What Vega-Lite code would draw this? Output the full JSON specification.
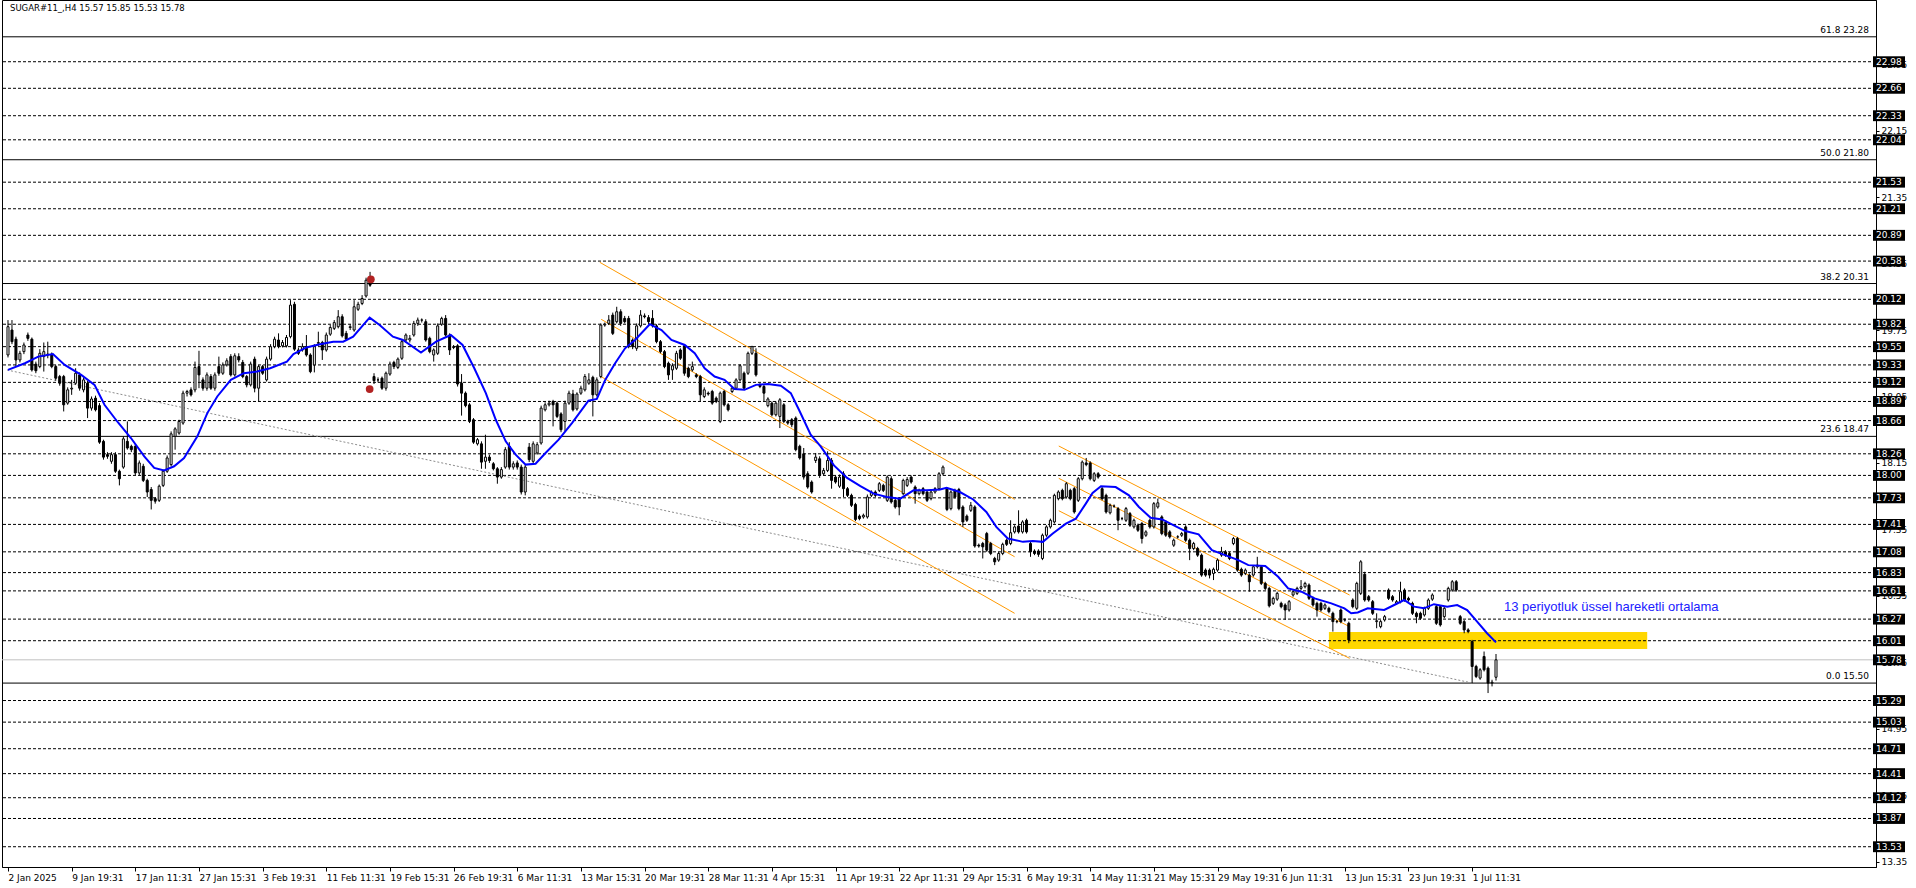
{
"$schema":"https://vega.github.io/schema/vega-lite/v6.json",
"width":1874,"height":867,
"padding":{"left":2,"top":0,"right":40,"bottom":21},
"autosize":{"type":"none"},
"background":"white",
"config":{"view":{"stroke":"#000","strokeWidth":1}},
"datasets":{
"candles":[
{"i":0,"o":19.45,"h":19.87,"l":19.42,"c":19.79},{"i":1,"o":19.75,"h":19.87,"l":19.58,"c":19.61},{"i":2,"o":19.64,"h":19.67,"l":19.31,"c":19.39},{"i":3,"o":19.39,"h":19.5,"l":19.36,"c":19.47},{"i":4,"o":19.49,"h":19.6,"l":19.46,"c":19.57},{"i":5,"o":19.69,"h":19.72,"l":19.62,"c":19.65},{"i":6,"o":19.64,"h":19.66,"l":19.25,"c":19.27},{"i":7,"o":19.34,"h":19.37,"l":19.23,"c":19.26},{"i":8,"o":19.31,"h":19.52,"l":19.29,"c":19.47},{"i":9,"o":19.43,"h":19.6,"l":19.25,"c":19.49},
{"i":10,"o":19.45,"h":19.61,"l":19.41,"c":19.46},{"i":11,"o":19.46,"h":19.48,"l":19.29,"c":19.31},{"i":12,"o":19.31,"h":19.33,"l":19.14,"c":19.17},{"i":13,"o":19.19,"h":19.21,"l":19.08,"c":19.11},{"i":14,"o":19.19,"h":19.21,"l":18.77,"c":18.85},{"i":15,"o":18.87,"h":19.06,"l":18.85,"c":19.03},{"i":16,"o":19.04,"h":19.15,"l":18.97,"c":19.05},{"i":17,"o":19.11,"h":19.29,"l":19.09,"c":19.23},{"i":18,"o":19.21,"h":19.24,"l":19.02,"c":19.05},{"i":19,"o":19.03,"h":19.18,"l":19.0,"c":19.15},
{"i":20,"o":19.11,"h":19.14,"l":18.69,"c":18.81},{"i":21,"o":18.81,"h":18.95,"l":18.78,"c":18.92},{"i":22,"o":18.93,"h":18.96,"l":18.77,"c":18.79},{"i":23,"o":18.84,"h":18.87,"l":18.38,"c":18.4},{"i":24,"o":18.41,"h":18.43,"l":18.19,"c":18.22},{"i":25,"o":18.25,"h":18.28,"l":18.2,"c":18.23},{"i":26,"o":18.17,"h":18.28,"l":18.14,"c":18.25},{"i":27,"o":18.25,"h":18.28,"l":18.03,"c":18.05},{"i":28,"o":18.05,"h":18.07,"l":17.88,"c":17.96},{"i":29,"o":18.1,"h":18.47,"l":18.08,"c":18.44},
{"i":30,"o":18.41,"h":18.65,"l":18.31,"c":18.33},{"i":31,"o":18.35,"h":18.37,"l":18.28,"c":18.31},{"i":32,"o":18.35,"h":18.38,"l":18.0,"c":18.03},{"i":33,"o":18.03,"h":18.18,"l":18.0,"c":18.15},{"i":34,"o":18.11,"h":18.14,"l":17.92,"c":17.94},{"i":35,"o":17.94,"h":17.96,"l":17.74,"c":17.8},{"i":36,"o":17.83,"h":17.86,"l":17.59,"c":17.7},{"i":37,"o":17.72,"h":17.74,"l":17.66,"c":17.69},{"i":38,"o":17.7,"h":17.89,"l":17.68,"c":17.87},{"i":39,"o":17.88,"h":18.07,"l":17.86,"c":18.05},
{"i":40,"o":18.05,"h":18.24,"l":18.03,"c":18.21},{"i":41,"o":18.13,"h":18.53,"l":18.11,"c":18.5},{"i":42,"o":18.47,"h":18.58,"l":18.31,"c":18.56},{"i":43,"o":18.51,"h":18.67,"l":18.49,"c":18.65},{"i":44,"o":18.63,"h":19.02,"l":18.61,"c":18.99},{"i":45,"o":18.99,"h":19.03,"l":18.95,"c":19.01},{"i":46,"o":19.03,"h":19.06,"l":18.95,"c":18.97},{"i":47,"o":19.03,"h":19.37,"l":19.0,"c":19.3},{"i":48,"o":19.31,"h":19.5,"l":19.05,"c":19.21},{"i":49,"o":19.15,"h":19.18,"l":19.02,"c":19.05},
{"i":50,"o":19.05,"h":19.24,"l":19.02,"c":19.21},{"i":51,"o":19.19,"h":19.22,"l":19.03,"c":19.05},{"i":52,"o":19.05,"h":19.24,"l":19.02,"c":19.21},{"i":53,"o":19.31,"h":19.43,"l":19.2,"c":19.23},{"i":54,"o":19.23,"h":19.36,"l":19.21,"c":19.33},{"i":55,"o":19.33,"h":19.41,"l":19.31,"c":19.38},{"i":56,"o":19.43,"h":19.46,"l":19.19,"c":19.21},{"i":57,"o":19.21,"h":19.47,"l":19.19,"c":19.44},{"i":58,"o":19.43,"h":19.47,"l":19.36,"c":19.39},{"i":59,"o":19.36,"h":19.39,"l":19.17,"c":19.19},
{"i":60,"o":19.19,"h":19.21,"l":19.06,"c":19.09},{"i":61,"o":19.09,"h":19.37,"l":19.07,"c":19.34},{"i":62,"o":19.4,"h":19.43,"l":19.0,"c":19.05},{"i":63,"o":19.05,"h":19.33,"l":18.89,"c":19.31},{"i":64,"o":19.31,"h":19.33,"l":19.21,"c":19.23},{"i":65,"o":19.15,"h":19.43,"l":19.13,"c":19.4},{"i":66,"o":19.4,"h":19.58,"l":19.38,"c":19.55},{"i":67,"o":19.55,"h":19.67,"l":19.53,"c":19.64},{"i":68,"o":19.63,"h":19.71,"l":19.53,"c":19.55},{"i":69,"o":19.56,"h":19.63,"l":19.54,"c":19.6},
{"i":70,"o":19.56,"h":19.69,"l":19.54,"c":19.66},{"i":71,"o":19.67,"h":20.11,"l":19.65,"c":20.05},{"i":72,"o":20.06,"h":20.09,"l":19.5,"c":19.52},{"i":73,"o":19.51,"h":19.54,"l":19.45,"c":19.47},{"i":74,"o":19.51,"h":19.59,"l":19.49,"c":19.55},{"i":75,"o":19.55,"h":19.69,"l":19.43,"c":19.45},{"i":76,"o":19.45,"h":19.47,"l":19.23,"c":19.25},{"i":77,"o":19.33,"h":19.58,"l":19.24,"c":19.55},{"i":78,"o":19.59,"h":19.73,"l":19.56,"c":19.6},{"i":79,"o":19.6,"h":19.62,"l":19.39,"c":19.51},
{"i":80,"o":19.51,"h":19.72,"l":19.49,"c":19.69},{"i":81,"o":19.7,"h":19.81,"l":19.68,"c":19.78},{"i":82,"o":19.77,"h":19.87,"l":19.75,"c":19.84},{"i":83,"o":19.79,"h":19.99,"l":19.77,"c":19.91},{"i":84,"o":19.91,"h":19.94,"l":19.66,"c":19.68},{"i":85,"o":19.71,"h":19.74,"l":19.62,"c":19.64},{"i":86,"o":19.78,"h":19.82,"l":19.75,"c":19.79},{"i":87,"o":19.75,"h":20.11,"l":19.73,"c":20.03},{"i":88,"o":20.0,"h":20.09,"l":19.98,"c":20.06},{"i":89,"o":20.07,"h":20.17,"l":20.05,"c":20.13},
{"i":90,"o":20.16,"h":20.38,"l":20.14,"c":20.35},{"i":91,"o":20.39,"h":20.45,"l":20.27,"c":20.29},{"i":92,"o":19.19,"h":19.23,"l":19.1,"c":19.14},{"i":93,"o":19.15,"h":19.18,"l":19.12,"c":19.15},{"i":94,"o":19.17,"h":19.19,"l":19.03,"c":19.05},{"i":95,"o":19.05,"h":19.25,"l":19.02,"c":19.23},{"i":96,"o":19.22,"h":19.37,"l":19.2,"c":19.34},{"i":97,"o":19.36,"h":19.38,"l":19.28,"c":19.31},{"i":98,"o":19.3,"h":19.42,"l":19.28,"c":19.4},{"i":99,"o":19.41,"h":19.63,"l":19.39,"c":19.61},
{"i":100,"o":19.63,"h":19.71,"l":19.6,"c":19.69},{"i":101,"o":19.63,"h":19.69,"l":19.6,"c":19.65},{"i":102,"o":19.69,"h":19.86,"l":19.67,"c":19.83},{"i":103,"o":19.83,"h":19.9,"l":19.8,"c":19.87},{"i":104,"o":19.87,"h":19.89,"l":19.84,"c":19.87},{"i":105,"o":19.85,"h":19.88,"l":19.61,"c":19.63},{"i":106,"o":19.65,"h":19.67,"l":19.47,"c":19.49},{"i":107,"o":19.45,"h":19.53,"l":19.37,"c":19.51},{"i":108,"o":19.47,"h":19.83,"l":19.45,"c":19.8},{"i":109,"o":19.82,"h":19.91,"l":19.8,"c":19.89},
{"i":110,"o":19.89,"h":19.93,"l":19.67,"c":19.69},{"i":111,"o":19.69,"h":19.71,"l":19.45,"c":19.51},{"i":112,"o":19.55,"h":19.57,"l":19.52,"c":19.54},{"i":113,"o":19.56,"h":19.58,"l":19.07,"c":19.1},{"i":114,"o":19.11,"h":19.22,"l":18.72,"c":18.99},{"i":115,"o":18.99,"h":19.01,"l":18.82,"c":18.84},{"i":116,"o":18.85,"h":18.87,"l":18.63,"c":18.65},{"i":117,"o":18.67,"h":18.69,"l":18.38,"c":18.4},{"i":118,"o":18.38,"h":18.45,"l":18.36,"c":18.43},{"i":119,"o":18.38,"h":18.41,"l":18.08,"c":18.16},
{"i":120,"o":18.17,"h":18.49,"l":18.08,"c":18.22},{"i":121,"o":18.22,"h":18.25,"l":18.15,"c":18.18},{"i":122,"o":18.14,"h":18.16,"l":18.06,"c":18.08},{"i":123,"o":18.08,"h":18.1,"l":17.9,"c":17.98},{"i":124,"o":17.98,"h":18.1,"l":17.96,"c":18.07},{"i":125,"o":18.1,"h":18.34,"l":18.08,"c":18.31},{"i":126,"o":18.35,"h":18.4,"l":18.07,"c":18.1},{"i":127,"o":18.1,"h":18.17,"l":18.07,"c":18.14},{"i":128,"o":18.15,"h":18.18,"l":18.07,"c":18.1},{"i":129,"o":18.1,"h":18.13,"l":17.77,"c":17.8},
{"i":130,"o":17.8,"h":18.13,"l":17.76,"c":18.1},{"i":131,"o":18.34,"h":18.39,"l":18.16,"c":18.19},{"i":132,"o":18.17,"h":18.41,"l":18.14,"c":18.38},{"i":133,"o":18.27,"h":18.4,"l":18.25,"c":18.37},{"i":134,"o":18.39,"h":18.84,"l":18.37,"c":18.81},{"i":135,"o":18.79,"h":18.88,"l":18.77,"c":18.85},{"i":136,"o":18.85,"h":18.9,"l":18.83,"c":18.87},{"i":137,"o":18.89,"h":18.91,"l":18.59,"c":18.85},{"i":138,"o":18.87,"h":18.89,"l":18.69,"c":18.71},{"i":139,"o":18.74,"h":18.76,"l":18.52,"c":18.55},
{"i":140,"o":18.65,"h":18.9,"l":18.53,"c":18.87},{"i":141,"o":18.87,"h":19.02,"l":18.85,"c":18.99},{"i":142,"o":18.98,"h":19.03,"l":18.77,"c":18.79},{"i":143,"o":18.8,"h":19.0,"l":18.78,"c":18.98},{"i":144,"o":18.99,"h":19.08,"l":18.97,"c":19.05},{"i":145,"o":19.03,"h":19.22,"l":19.01,"c":19.19},{"i":146,"o":19.11,"h":19.23,"l":19.09,"c":19.15},{"i":147,"o":19.18,"h":19.2,"l":18.71,"c":18.97},{"i":148,"o":18.97,"h":19.18,"l":18.95,"c":19.15},{"i":149,"o":19.19,"h":19.83,"l":19.17,"c":19.81},
{"i":150,"o":19.81,"h":19.84,"l":19.79,"c":19.82},{"i":151,"o":19.83,"h":19.93,"l":19.81,"c":19.87},{"i":152,"o":19.93,"h":19.96,"l":19.69,"c":19.71},{"i":153,"o":19.85,"h":20.03,"l":19.83,"c":19.97},{"i":154,"o":19.97,"h":20.0,"l":19.8,"c":19.83},{"i":155,"o":19.89,"h":19.92,"l":19.83,"c":19.85},{"i":156,"o":19.89,"h":19.92,"l":19.53,"c":19.56},{"i":157,"o":19.63,"h":19.65,"l":19.52,"c":19.55},{"i":158,"o":19.53,"h":19.83,"l":19.5,"c":19.8},{"i":159,"o":19.8,"h":19.99,"l":19.78,"c":19.93},
{"i":160,"o":19.92,"h":19.95,"l":19.89,"c":19.91},{"i":161,"o":19.9,"h":19.93,"l":19.82,"c":19.85},{"i":162,"o":19.89,"h":19.99,"l":19.78,"c":19.8},{"i":163,"o":19.8,"h":19.82,"l":19.59,"c":19.61},{"i":164,"o":19.61,"h":19.63,"l":19.47,"c":19.49},{"i":165,"o":19.49,"h":19.51,"l":19.29,"c":19.31},{"i":166,"o":19.35,"h":19.37,"l":19.15,"c":19.21},{"i":167,"o":19.27,"h":19.35,"l":19.15,"c":19.32},{"i":168,"o":19.29,"h":19.5,"l":19.27,"c":19.47},{"i":169,"o":19.51,"h":19.53,"l":19.39,"c":19.41},
{"i":170,"o":19.56,"h":19.58,"l":19.2,"c":19.23},{"i":171,"o":19.29,"h":19.31,"l":19.17,"c":19.19},{"i":172,"o":19.27,"h":19.37,"l":19.25,"c":19.31},{"i":173,"o":19.21,"h":19.23,"l":19.17,"c":19.19},{"i":174,"o":19.19,"h":19.21,"l":18.89,"c":18.97},{"i":175,"o":18.95,"h":19.06,"l":18.93,"c":19.03},{"i":176,"o":18.99,"h":19.01,"l":18.96,"c":18.98},{"i":177,"o":19.01,"h":19.03,"l":18.85,"c":18.87},{"i":178,"o":18.93,"h":18.95,"l":18.87,"c":18.89},{"i":179,"o":18.65,"h":19.01,"l":18.63,"c":18.99},
{"i":180,"o":19.01,"h":19.03,"l":18.83,"c":18.85},{"i":181,"o":18.85,"h":18.87,"l":18.77,"c":18.79},{"i":182,"o":19.01,"h":19.07,"l":18.99,"c":19.05},{"i":183,"o":19.05,"h":19.17,"l":19.03,"c":19.15},{"i":184,"o":19.15,"h":19.34,"l":19.13,"c":19.32},{"i":185,"o":19.23,"h":19.25,"l":19.03,"c":19.05},{"i":186,"o":19.23,"h":19.49,"l":19.21,"c":19.47},{"i":187,"o":19.47,"h":19.56,"l":19.45,"c":19.55},{"i":188,"o":19.47,"h":19.53,"l":19.19,"c":19.21},{"i":189,"o":19.09,"h":19.11,"l":19.05,"c":19.07},
{"i":190,"o":19.07,"h":19.09,"l":18.89,"c":18.99},{"i":191,"o":18.84,"h":18.94,"l":18.82,"c":18.92},{"i":192,"o":18.87,"h":18.89,"l":18.71,"c":18.73},{"i":193,"o":18.73,"h":18.89,"l":18.71,"c":18.87},{"i":194,"o":18.71,"h":18.93,"l":18.57,"c":18.91},{"i":195,"o":18.85,"h":18.87,"l":18.63,"c":18.65},{"i":196,"o":18.65,"h":18.67,"l":18.61,"c":18.63},{"i":197,"o":18.67,"h":18.69,"l":18.58,"c":18.61},{"i":198,"o":18.69,"h":18.71,"l":18.29,"c":18.31},{"i":199,"o":18.35,"h":18.37,"l":18.19,"c":18.21},
{"i":200,"o":18.26,"h":18.33,"l":17.95,"c":17.98},{"i":201,"o":18.02,"h":18.05,"l":17.84,"c":17.86},{"i":202,"o":17.92,"h":17.94,"l":17.78,"c":17.8},{"i":203,"o":18.18,"h":18.27,"l":18.15,"c":18.22},{"i":204,"o":18.2,"h":18.23,"l":17.97,"c":18.0},{"i":205,"o":18.02,"h":18.09,"l":18.0,"c":18.06},{"i":206,"o":18.06,"h":18.29,"l":18.04,"c":18.18},{"i":207,"o":18.18,"h":18.21,"l":17.84,"c":17.94},{"i":208,"o":17.98,"h":18.0,"l":17.9,"c":17.92},{"i":209,"o":17.87,"h":18.01,"l":17.85,"c":17.98},
{"i":210,"o":18.02,"h":18.05,"l":17.74,"c":17.84},{"i":211,"o":17.84,"h":17.86,"l":17.74,"c":17.76},{"i":212,"o":17.76,"h":17.78,"l":17.62,"c":17.64},{"i":213,"o":17.65,"h":17.67,"l":17.45,"c":17.47},{"i":214,"o":17.51,"h":17.53,"l":17.46,"c":17.48},{"i":215,"o":17.5,"h":17.54,"l":17.48,"c":17.52},{"i":216,"o":17.5,"h":17.77,"l":17.48,"c":17.74},{"i":217,"o":17.76,"h":17.82,"l":17.74,"c":17.8},{"i":218,"o":17.8,"h":17.82,"l":17.74,"c":17.76},{"i":219,"o":17.82,"h":17.92,"l":17.8,"c":17.9},
{"i":220,"o":17.88,"h":17.9,"l":17.8,"c":17.82},{"i":221,"o":17.7,"h":18.0,"l":17.68,"c":17.98},{"i":222,"o":17.96,"h":17.99,"l":17.66,"c":17.68},{"i":223,"o":17.7,"h":17.72,"l":17.6,"c":17.62},{"i":224,"o":17.72,"h":17.74,"l":17.52,"c":17.62},{"i":225,"o":17.78,"h":17.96,"l":17.76,"c":17.94},{"i":226,"o":17.88,"h":17.98,"l":17.86,"c":17.95},{"i":227,"o":17.98,"h":18.0,"l":17.9,"c":17.92},{"i":228,"o":17.86,"h":17.88,"l":17.66,"c":17.78},{"i":229,"o":17.78,"h":17.84,"l":17.76,"c":17.82},
{"i":230,"o":17.84,"h":17.86,"l":17.76,"c":17.78},{"i":231,"o":17.8,"h":17.82,"l":17.68,"c":17.7},{"i":232,"o":17.72,"h":17.82,"l":17.7,"c":17.8},{"i":233,"o":17.8,"h":17.86,"l":17.78,"c":17.84},{"i":234,"o":17.84,"h":18.04,"l":17.82,"c":18.02},{"i":235,"o":18.02,"h":18.12,"l":18.0,"c":18.1},{"i":236,"o":17.84,"h":17.86,"l":17.57,"c":17.59},{"i":237,"o":17.6,"h":17.82,"l":17.58,"c":17.8},{"i":238,"o":17.82,"h":17.84,"l":17.72,"c":17.74},{"i":239,"o":17.83,"h":17.85,"l":17.58,"c":17.6},
{"i":240,"o":17.62,"h":17.64,"l":17.38,"c":17.44},{"i":241,"o":17.51,"h":17.53,"l":17.44,"c":17.46},{"i":242,"o":17.58,"h":17.68,"l":17.56,"c":17.64},{"i":243,"o":17.62,"h":17.64,"l":17.13,"c":17.15},{"i":244,"o":17.16,"h":17.18,"l":17.13,"c":17.15},{"i":245,"o":17.18,"h":17.2,"l":17.0,"c":17.14},{"i":246,"o":17.3,"h":17.32,"l":17.08,"c":17.1},{"i":247,"o":17.18,"h":17.2,"l":17.04,"c":17.06},{"i":248,"o":17.0,"h":17.02,"l":16.92,"c":16.96},{"i":249,"o":16.98,"h":17.08,"l":16.96,"c":17.06},
{"i":250,"o":17.06,"h":17.19,"l":17.04,"c":17.17},{"i":251,"o":17.22,"h":17.24,"l":17.15,"c":17.17},{"i":252,"o":17.18,"h":17.46,"l":17.16,"c":17.31},{"i":253,"o":17.32,"h":17.4,"l":17.3,"c":17.38},{"i":254,"o":17.39,"h":17.58,"l":17.3,"c":17.32},{"i":255,"o":17.32,"h":17.46,"l":17.3,"c":17.44},{"i":256,"o":17.46,"h":17.48,"l":17.3,"c":17.32},{"i":257,"o":17.18,"h":17.2,"l":17.02,"c":17.08},{"i":258,"o":17.09,"h":17.11,"l":17.04,"c":17.06},{"i":259,"o":17.09,"h":17.11,"l":17.02,"c":17.05},
{"i":260,"o":17.0,"h":17.3,"l":16.98,"c":17.28},{"i":261,"o":17.28,"h":17.4,"l":17.26,"c":17.38},{"i":262,"o":17.38,"h":17.48,"l":17.36,"c":17.46},{"i":263,"o":17.44,"h":17.78,"l":17.42,"c":17.76},{"i":264,"o":17.72,"h":17.82,"l":17.7,"c":17.8},{"i":265,"o":17.82,"h":17.84,"l":17.7,"c":17.72},{"i":266,"o":17.74,"h":17.92,"l":17.72,"c":17.9},{"i":267,"o":17.82,"h":17.84,"l":17.7,"c":17.72},{"i":268,"o":17.84,"h":17.86,"l":17.54,"c":17.56},{"i":269,"o":17.7,"h":17.98,"l":17.68,"c":17.96},
{"i":270,"o":17.96,"h":18.18,"l":17.94,"c":18.16},{"i":271,"o":18.15,"h":18.21,"l":18.11,"c":18.13},{"i":272,"o":18.15,"h":18.17,"l":17.94,"c":17.96},{"i":273,"o":17.94,"h":18.04,"l":17.92,"c":18.02},{"i":274,"o":18.02,"h":18.04,"l":17.96,"c":17.98},{"i":275,"o":17.84,"h":17.86,"l":17.7,"c":17.72},{"i":276,"o":17.76,"h":17.78,"l":17.54,"c":17.56},{"i":277,"o":17.55,"h":17.66,"l":17.53,"c":17.64},{"i":278,"o":17.63,"h":17.65,"l":17.61,"c":17.63},{"i":279,"o":17.6,"h":17.62,"l":17.34,"c":17.46},
{"i":280,"o":17.48,"h":17.5,"l":17.46,"c":17.48},{"i":281,"o":17.46,"h":17.62,"l":17.44,"c":17.6},{"i":282,"o":17.54,"h":17.56,"l":17.38,"c":17.4},{"i":283,"o":17.38,"h":17.48,"l":17.36,"c":17.46},{"i":284,"o":17.4,"h":17.42,"l":17.32,"c":17.34},{"i":285,"o":17.42,"h":17.44,"l":17.18,"c":17.24},{"i":286,"o":17.28,"h":17.34,"l":17.26,"c":17.32},{"i":287,"o":17.46,"h":17.48,"l":17.36,"c":17.38},{"i":288,"o":17.38,"h":17.68,"l":17.36,"c":17.66},{"i":289,"o":17.62,"h":17.72,"l":17.6,"c":17.67},
{"i":290,"o":17.5,"h":17.52,"l":17.28,"c":17.3},{"i":291,"o":17.44,"h":17.46,"l":17.26,"c":17.28},{"i":292,"o":17.32,"h":17.34,"l":17.24,"c":17.26},{"i":293,"o":17.16,"h":17.24,"l":17.14,"c":17.22},{"i":294,"o":17.26,"h":17.28,"l":17.24,"c":17.26},{"i":295,"o":17.28,"h":17.32,"l":17.26,"c":17.3},{"i":296,"o":17.38,"h":17.4,"l":17.2,"c":17.22},{"i":297,"o":17.22,"h":17.24,"l":16.98,"c":17.12},{"i":298,"o":17.12,"h":17.2,"l":17.1,"c":17.18},{"i":299,"o":17.12,"h":17.14,"l":17.02,"c":17.04},
{"i":300,"o":17.04,"h":17.06,"l":16.78,"c":16.8},{"i":301,"o":16.86,"h":16.88,"l":16.78,"c":16.8},{"i":302,"o":16.86,"h":16.88,"l":16.76,"c":16.8},{"i":303,"o":16.82,"h":16.89,"l":16.74,"c":16.87},{"i":304,"o":16.86,"h":17.0,"l":16.84,"c":16.98},{"i":305,"o":17.04,"h":17.14,"l":17.02,"c":17.08},{"i":306,"o":17.08,"h":17.1,"l":17.02,"c":17.04},{"i":307,"o":17.06,"h":17.08,"l":16.98,"c":17.0},{"i":308,"o":17.18,"h":17.26,"l":17.16,"c":17.24},{"i":309,"o":17.24,"h":17.26,"l":16.84,"c":16.86},
{"i":310,"o":16.87,"h":16.89,"l":16.78,"c":16.8},{"i":311,"o":16.82,"h":16.88,"l":16.8,"c":16.86},{"i":312,"o":16.8,"h":16.82,"l":16.6,"c":16.72},{"i":313,"o":16.8,"h":16.92,"l":16.78,"c":16.9},{"i":314,"o":16.9,"h":17.02,"l":16.88,"c":16.92},{"i":315,"o":16.9,"h":16.92,"l":16.68,"c":16.7},{"i":316,"o":16.7,"h":16.72,"l":16.62,"c":16.64},{"i":317,"o":16.64,"h":16.66,"l":16.41,"c":16.43},{"i":318,"o":16.46,"h":16.54,"l":16.44,"c":16.52},{"i":319,"o":16.51,"h":16.6,"l":16.49,"c":16.58},
{"i":320,"o":16.46,"h":16.48,"l":16.4,"c":16.42},{"i":321,"o":16.44,"h":16.46,"l":16.26,"c":16.38},{"i":322,"o":16.38,"h":16.5,"l":16.36,"c":16.48},{"i":323,"o":16.56,"h":16.62,"l":16.54,"c":16.6},{"i":324,"o":16.58,"h":16.66,"l":16.56,"c":16.64},{"i":325,"o":16.64,"h":16.74,"l":16.62,"c":16.66},{"i":326,"o":16.66,"h":16.72,"l":16.64,"c":16.7},{"i":327,"o":16.68,"h":16.7,"l":16.5,"c":16.52},{"i":328,"o":16.52,"h":16.54,"l":16.42,"c":16.44},{"i":329,"o":16.46,"h":16.48,"l":16.3,"c":16.38},
{"i":330,"o":16.46,"h":16.48,"l":16.36,"c":16.38},{"i":331,"o":16.4,"h":16.46,"l":16.38,"c":16.44},{"i":332,"o":16.4,"h":16.42,"l":16.34,"c":16.36},{"i":333,"o":16.34,"h":16.36,"l":16.12,"c":16.24},{"i":334,"o":16.24,"h":16.26,"l":16.22,"c":16.24},{"i":335,"o":16.38,"h":16.4,"l":16.22,"c":16.24},{"i":336,"o":16.26,"h":16.28,"l":16.24,"c":16.26},{"i":337,"o":16.22,"h":16.24,"l":15.98,"c":16.02},{"i":338,"o":16.5,"h":16.52,"l":16.4,"c":16.42},{"i":339,"o":16.4,"h":16.72,"l":16.38,"c":16.7},
{"i":340,"o":16.58,"h":16.98,"l":16.56,"c":16.96},{"i":341,"o":16.81,"h":16.84,"l":16.48,"c":16.5},{"i":342,"o":16.54,"h":16.56,"l":16.48,"c":16.5},{"i":343,"o":16.48,"h":16.5,"l":16.32,"c":16.34},{"i":344,"o":16.24,"h":16.34,"l":16.16,"c":16.25},{"i":345,"o":16.18,"h":16.26,"l":16.16,"c":16.24},{"i":346,"o":16.26,"h":16.32,"l":16.24,"c":16.3},{"i":347,"o":16.62,"h":16.64,"l":16.5,"c":16.52},{"i":348,"o":16.54,"h":16.56,"l":16.48,"c":16.5},{"i":349,"o":16.46,"h":16.5,"l":16.44,"c":16.48},
{"i":350,"o":16.48,"h":16.72,"l":16.46,"c":16.6},{"i":351,"o":16.62,"h":16.64,"l":16.48,"c":16.5},{"i":352,"o":16.52,"h":16.54,"l":16.48,"c":16.5},{"i":353,"o":16.46,"h":16.48,"l":16.32,"c":16.34},{"i":354,"o":16.34,"h":16.36,"l":16.22,"c":16.3},{"i":355,"o":16.34,"h":16.36,"l":16.26,"c":16.28},{"i":356,"o":16.32,"h":16.42,"l":16.3,"c":16.4},{"i":357,"o":16.4,"h":16.52,"l":16.38,"c":16.5},{"i":358,"o":16.51,"h":16.58,"l":16.49,"c":16.56},{"i":359,"o":16.42,"h":16.44,"l":16.2,"c":16.22},
{"i":360,"o":16.42,"h":16.44,"l":16.18,"c":16.2},{"i":361,"o":16.3,"h":16.42,"l":16.28,"c":16.4},{"i":362,"o":16.5,"h":16.66,"l":16.48,"c":16.64},{"i":363,"o":16.62,"h":16.74,"l":16.6,"c":16.72},{"i":364,"o":16.72,"h":16.74,"l":16.6,"c":16.62},{"i":365,"o":16.3,"h":16.32,"l":16.2,"c":16.22},{"i":366,"o":16.24,"h":16.26,"l":16.1,"c":16.14},{"i":367,"o":16.14,"h":16.16,"l":16.1,"c":16.12},{"i":368,"o":16.0,"h":16.02,"l":15.5,"c":15.7},{"i":369,"o":15.7,"h":15.72,"l":15.56,"c":15.58},
{"i":370,"o":15.56,"h":15.68,"l":15.54,"c":15.66},{"i":371,"o":15.82,"h":15.88,"l":15.64,"c":15.66},{"i":372,"o":15.68,"h":15.7,"l":15.38,"c":15.5},{"i":373,"o":15.5,"h":15.54,"l":15.46,"c":15.51},{"i":374,"o":15.57,"h":15.85,"l":15.53,"c":15.78}
],
"ema":[
{"i":0,"e":19.27},{"i":4.25,"e":19.35},{"i":7.6,"e":19.43},{"i":11.3,"e":19.46},{"i":14.25,"e":19.33},{"i":18.4,"e":19.21},{"i":21.75,"e":19.09},{"i":24.25,"e":18.85},{"i":27.6,"e":18.64},{"i":30.9,"e":18.45},{"i":34.25,"e":18.23},{"i":36.75,"e":18.09},{"i":39.25,"e":18.06},{"i":41.75,"e":18.11},{"i":44.25,"e":18.21},{"i":47.6,"e":18.47},{"i":50.1,"e":18.75},{"i":52.6,"e":18.95},{"i":56,"e":19.15},{"i":59.25,"e":19.23},{"i":62.6,"e":19.25},{"i":65.9,"e":19.29},{"i":70.1,"e":19.37},{"i":71.75,"e":19.46},{"i":75,"e":19.54},{"i":78.4,"e":19.58},{"i":81.75,"e":19.61},{"i":84.25,"e":19.61},{"i":86.75,"e":19.67},{"i":89.25,"e":19.81},{"i":90.9,"e":19.9},{"i":93.4,"e":19.81},{"i":96.75,"e":19.67},{"i":99.25,"e":19.63},{"i":103.8,"e":19.48},{"i":107.6,"e":19.61},{"i":111.3,"e":19.69},{"i":114.25,"e":19.57},{"i":117.2,"e":19.29},{"i":120.1,"e":18.99},{"i":122.6,"e":18.67},{"i":125.1,"e":18.41},{"i":127.6,"e":18.25},{"i":130.1,"e":18.13},{"i":132.6,"e":18.14},{"i":135.1,"e":18.27},{"i":138.4,"e":18.43},{"i":141.75,"e":18.63},{"i":145.9,"e":18.9},{"i":148,"e":18.92},{"i":150.1,"e":19.15},{"i":152.6,"e":19.35},{"i":155.1,"e":19.53},{"i":157.6,"e":19.63},{"i":161.3,"e":19.82},{"i":164.25,"e":19.75},{"i":166.75,"e":19.63},{"i":170.1,"e":19.57},{"i":172.6,"e":19.47},{"i":175.1,"e":19.29},{"i":177.6,"e":19.19},{"i":180.1,"e":19.15},{"i":182.6,"e":19.04},{"i":185.1,"e":19.03},{"i":188,"e":19.09},{"i":191,"e":19.1},{"i":194.25,"e":19.08},{"i":196.75,"e":18.99},{"i":198.8,"e":18.79},{"i":201.75,"e":18.49},{"i":204.25,"e":18.35},{"i":207.6,"e":18.12},{"i":210.9,"e":17.97},{"i":214.25,"e":17.87},{"i":217.6,"e":17.78},{"i":220.9,"e":17.74},{"i":224.25,"e":17.72},{"i":227.6,"e":17.82},{"i":230.9,"e":17.82},{"i":234.25,"e":17.83},{"i":235.9,"e":17.85},{"i":239.25,"e":17.8},{"i":242.6,"e":17.71},{"i":245.9,"e":17.56},{"i":248.4,"e":17.38},{"i":251.3,"e":17.24},{"i":255.1,"e":17.2},{"i":257.6,"e":17.21},{"i":260.1,"e":17.2},{"i":262.6,"e":17.3},{"i":265.9,"e":17.42},{"i":268.4,"e":17.48},{"i":270.9,"e":17.66},{"i":272.6,"e":17.79},{"i":274.7,"e":17.87},{"i":278.4,"e":17.86},{"i":281.75,"e":17.76},{"i":284.25,"e":17.62},{"i":287.2,"e":17.49},{"i":290.1,"e":17.47},{"i":293.4,"e":17.39},{"i":295.9,"e":17.33},{"i":299.25,"e":17.29},{"i":302.6,"e":17.1},{"i":305.9,"e":17.04},{"i":309.25,"e":16.98},{"i":311.75,"e":16.92},{"i":316,"e":16.91},{"i":319.25,"e":16.78},{"i":321.75,"e":16.64},{"i":325.1,"e":16.6},{"i":328.4,"e":16.52},{"i":332.6,"e":16.46},{"i":335.9,"e":16.4},{"i":337.6,"e":16.34},{"i":339.25,"e":16.35},{"i":341.75,"e":16.4},{"i":345.9,"e":16.38},{"i":348.4,"e":16.44},{"i":350.9,"e":16.5},{"i":353.4,"e":16.42},{"i":355.9,"e":16.4},{"i":358.4,"e":16.45},{"i":361.75,"e":16.42},{"i":364.25,"e":16.44},{"i":366.75,"e":16.38},{"i":369.25,"e":16.24},{"i":371.75,"e":16.1},{"i":374,"e":15.99}
],
"hl":[{"p":22.98},{"p":22.66},{"p":22.33},{"p":22.04},{"p":21.53},{"p":21.21},{"p":20.89},{"p":20.58},{"p":20.12},{"p":19.82},{"p":19.55},{"p":19.33},{"p":19.12},{"p":18.89},{"p":18.66},{"p":18.26},{"p":18.0},{"p":17.73},{"p":17.41},{"p":17.08},{"p":16.83},{"p":16.61},{"p":16.27},{"p":16.01},{"p":15.29},{"p":15.03},{"p":14.71},{"p":14.41},{"p":14.12},{"p":13.87},{"p":13.53}],
"boxes":[{"p":22.98},{"p":22.66},{"p":22.33},{"p":22.04},{"p":21.53},{"p":21.21},{"p":20.89},{"p":20.58},{"p":20.12},{"p":19.82},{"p":19.55},{"p":19.33},{"p":19.12},{"p":18.89},{"p":18.66},{"p":18.26},{"p":18.0},{"p":17.73},{"p":17.41},{"p":17.08},{"p":16.83},{"p":16.61},{"p":16.27},{"p":16.01},{"p":15.78},{"p":15.29},{"p":15.03},{"p":14.71},{"p":14.41},{"p":14.12},{"p":13.87},{"p":13.53}],
"fib":[{"p":23.28,"t":"61.8 23.28"},{"p":21.8,"t":"50.0 21.80"},{"p":20.31,"t":"38.2 20.31"},{"p":18.47,"t":"23.6 18.47"},{"p":15.5,"t":"0.0 15.50"}],
"chan":[{"a":148.75,"pa":20.565,"b":253,"pb":17.712},{"a":149.1,"pa":19.879,"b":253,"pb":17.021},{"a":149.1,"pa":19.188,"b":253,"pb":16.34},{"a":264.1,"pa":18.354,"b":337.2,"pb":16.56},{"a":264.1,"pa":17.965,"b":337.2,"pb":16.179},{"a":264.1,"pa":17.575,"b":337.2,"pb":15.798}]
},
"layer":[
{"data":{"values":[{"a":332,"b":412,"lo":15.91,"hi":16.115}]},
 "mark":{"type":"rect","color":"#ffd700"},
 "encoding":{
  "x":{"field":"a","type":"quantitative","title":null,"scale":{"domain":[-0.25,468.25],"nice":false,"zero":false},
   "axis":{"title":null,"values":[0,16,32,48,64,80,96,112,128,144,160,176,192,208,224,240,256,272,288,304,320,336,352,368],
    "labelExpr":"['2 Jan 2025','9 Jan 19:31','17 Jan 11:31','27 Jan 15:31','3 Feb 19:31','11 Feb 11:31','19 Feb 15:31','26 Feb 19:31','6 Mar 11:31','13 Mar 15:31','20 Mar 19:31','28 Mar 11:31','4 Apr 15:31','11 Apr 19:31','22 Apr 11:31','29 Apr 15:31','6 May 19:31','14 May 11:31','21 May 15:31','29 May 19:31','6 Jun 11:31','13 Jun 15:31','23 Jun 19:31','1 Jul 11:31'][round(datum.value/16)]",
    "grid":false,"ticks":true,"labels":true,"domain":true,"tickSize":4,"tickColor":"#000","domainColor":"#000","labelAlign":"left","labelBaseline":"top","labelPadding":2,"labelFont":"DejaVu Sans","labelFontSize":9,"labelColor":"#000","labelFlush":false,"labelOverlap":false}},
  "x2":{"field":"b"},
  "y":{"field":"lo","type":"quantitative","title":null,"scale":{"domain":[13.286,23.723],"nice":false,"zero":false},
   "axis":{"title":null,"orient":"right","values":[13.35,13.75,14.15,14.55,14.95,15.35,15.75,16.15,16.55,16.95,17.35,17.75,18.15,18.55,18.95,19.35,19.75,20.15,20.55,20.95,21.35,21.75,22.15,22.55,22.95,23.35],
    "format":".2f","grid":false,"ticks":true,"labels":true,"domain":true,"tickSize":3,"tickColor":"#000","domainColor":"#000","labelPadding":2,"labelFont":"DejaVu Sans","labelFontSize":9,"labelColor":"#000","labelBaseline":"middle","labelFlush":false,"labelOverlap":false}},
  "y2":{"field":"hi"}}},
{"data":{"name":"hl"},"mark":{"type":"rule","color":"#000","strokeWidth":1,"strokeDash":[3,2]},
 "encoding":{"y":{"field":"p","type":"quantitative","title":null}}},
{"data":{"name":"fib"},"mark":{"type":"rule","color":"#000","strokeWidth":1},
 "encoding":{"y":{"field":"p","type":"quantitative","title":null}}},
{"data":{"values":[{"p":15.78}]},"mark":{"type":"rule","color":"#c0c0c0","strokeWidth":1},
 "encoding":{"y":{"field":"p","type":"quantitative","title":null}}},
{"data":{"values":[{"a":-0.25,"pa":19.269,"b":368.4,"pb":15.497}]},"mark":{"type":"rule","color":"#8c8c8c","strokeWidth":1,"strokeDash":[2,2]},
 "encoding":{"x":{"field":"a","type":"quantitative","title":null},"y":{"field":"pa","type":"quantitative","title":null},"x2":{"field":"b"},"y2":{"field":"pb"}}},
{"data":{"name":"chan"},"mark":{"type":"rule","color":"#ff9900","strokeWidth":1},
 "encoding":{"x":{"field":"a","type":"quantitative","title":null},"y":{"field":"pa","type":"quantitative","title":null},"x2":{"field":"b"},"y2":{"field":"pb"}}},
{"data":{"name":"candles"},"mark":{"type":"rule","color":"#000","strokeWidth":1},
 "encoding":{"x":{"field":"i","type":"quantitative","title":null},"y":{"field":"l","type":"quantitative","title":null},"y2":{"field":"h"}}},
{"data":{"name":"candles"},"mark":{"type":"bar","width":2,"stroke":"#000","strokeWidth":1},
 "encoding":{"x":{"field":"i","type":"quantitative","title":null},"y":{"field":"o","type":"quantitative","title":null},"y2":{"field":"c"},
  "fill":{"condition":{"test":"datum.c >= datum.o","value":"#ffffff"},"value":"#000000"}}},
{"data":{"name":"ema"},"mark":{"type":"line","color":"#0000ff","strokeWidth":2},
 "encoding":{"x":{"field":"i","type":"quantitative","title":null},"y":{"field":"e","type":"quantitative","title":null}}},
{"data":{"values":[{"i":91.2,"p":20.36},{"i":90.9,"p":19.04}]},"mark":{"type":"point","shape":"circle","filled":true,"size":60,"color":"#b22222","opacity":1},
 "encoding":{"x":{"field":"i","type":"quantitative","title":null},"y":{"field":"p","type":"quantitative","title":null}}},
{"data":{"name":"fib"},"mark":{"type":"text","align":"right","baseline":"bottom","dx":-2,"dy":-2,"font":"DejaVu Sans","fontSize":9,"color":"#000"},
 "encoding":{"x":{"datum":468.25,"type":"quantitative","title":null},"y":{"field":"p","type":"quantitative","title":null},"text":{"field":"t"}}},
{"data":{"values":[{"i":376,"p":16.371,"t":"13 periyotluk üssel hareketli ortalama"}]},"mark":{"type":"text","align":"left","baseline":"alphabetic","font":"Liberation Sans","fontSize":13,"color":"#2020ff"},
 "encoding":{"x":{"field":"i","type":"quantitative","title":null},"y":{"field":"p","type":"quantitative","title":null},"text":{"field":"t"}}},
{"data":{"values":[{"t":"SUGAR#11_,H4  15.57 15.85 15.53 15.78"}]},"mark":{"type":"text","align":"left","baseline":"top","dx":3,"dy":4,"font":"DejaVu Sans","fontSize":8.5,"color":"#000"},
 "encoding":{"x":{"datum":-0.25,"type":"quantitative","title":null},"y":{"datum":23.723,"type":"quantitative","title":null},"text":{"field":"t"}}},
{"data":{"name":"boxes"},"mark":{"type":"point","shape":"M-1,-0.34L1,-0.34L1,0.34L-1,0.34Z","filled":true,"size":1024,"color":"#000","opacity":1,"strokeWidth":0,"xOffset":18},
 "encoding":{"x":{"datum":468.25,"type":"quantitative","title":null},"y":{"field":"p","type":"quantitative","title":null}}},
{"data":{"name":"boxes"},"mark":{"type":"text","align":"left","baseline":"middle","dx":5,"font":"DejaVu Sans","fontSize":9,"color":"#ffffff"},
 "encoding":{"x":{"datum":468.25,"type":"quantitative","title":null},"y":{"field":"p","type":"quantitative","title":null},"text":{"field":"p","type":"quantitative","format":".2f"}}}
]
}
